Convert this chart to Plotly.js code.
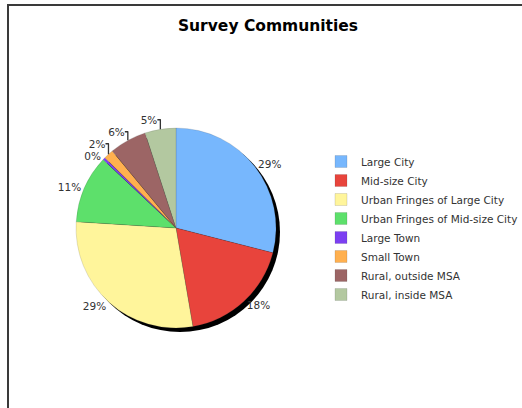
<!DOCTYPE html>
<html>
<head>
<meta charset="utf-8">
<script src="https://cdn.plot.ly/plotly-3.0.1.min.js"></script>
<style>
  html, body { margin: 0; padding: 0; background: #fff; }
  #wrap { position: relative; width: 522px; height: 408px; overflow: hidden; }
  #chart { position: absolute; left: 0; top: 0; width: 522px; height: 408px; }
  #frame { position: absolute; left: 7px; top: 4px; width: 600px; height: 500px;
           border-left: 2px solid #3a3a3a; border-top: 2px solid #3a3a3a; pointer-events: none; }
</style>
</head>
<body>
<div id="wrap">
  <div id="chart"></div>
  <div id="frame"></div>
</div>
<script>
const categories = ["Large City", "Mid-size City", "Urban Fringes of Large City",
  "Urban Fringes of Mid-size City", "Large Town", "Small Town",
  "Rural, outside MSA", "Rural, inside MSA"];
const shares = [29, 18.3, 28.7, 11, 0.4, 1.6, 6, 5];
const colors = ["#77b7fd", "#e8443c", "#fff59b", "#5de06b", "#7c3ff2", "#ffb04f", "#9c6565", "#b3c8a0"];

const W = 522, H = 408;
const cx = 176, cy = 228, r = 100, sh = 4;
const dom = (x0, y0) => ({
  x: [(x0 - r) / W, (x0 + r) / W],
  y: [(H - y0 - r) / H, (H - y0 + r) / H]
});

const data = [
  {
    type: "pie",
    values: [1],
    labels: ["shadow"],
    marker: { colors: ["#000"] },
    textinfo: "none",
    hoverinfo: "skip",
    showlegend: false,
    sort: false,
    domain: dom(cx + sh, cy + sh)
  },
  {
    type: "pie",
    values: shares,
    labels: categories,
    marker: { colors: colors, line: { color: "rgba(60,60,60,0.3)", width: 0.5 } },
    sort: false,
    direction: "clockwise",
    rotation: 0,
    textposition: "outside",
    texttemplate: "%{percent:.0%}",
    outsidetextfont: { family: "DejaVu Sans", size: 10.5, color: "#333" },
    domain: dom(cx, cy)
  }
];

const layout = {
  width: W, height: H,
  margin: { l: 0, r: 0, t: 0, b: 0, autoexpand: false },
  paper_bgcolor: "#fff",
  font: { family: "DejaVu Sans", size: 10.5, color: "#333" },
  title: {
    text: "<b>Survey Communities</b>",
    font: { family: "DejaVu Sans", size: 15.5, color: "#000" },
    x: 268 / W, xanchor: "center",
    y: 1 - 26 / H, yanchor: "middle"
  },
  legend: {
    x: 321 / W, xanchor: "left",
    y: 1 - 147 / H, yanchor: "top",
    font: { family: "DejaVu Sans", size: 10.5, color: "#333" },
    itemwidth: 30,
    tracegroupgap: 0,
    bgcolor: "rgba(0,0,0,0)"
  },
  showlegend: true
};

Plotly.newPlot("chart", data, layout, { displayModeBar: false, staticPlot: true });
</script>
</body>
</html>
